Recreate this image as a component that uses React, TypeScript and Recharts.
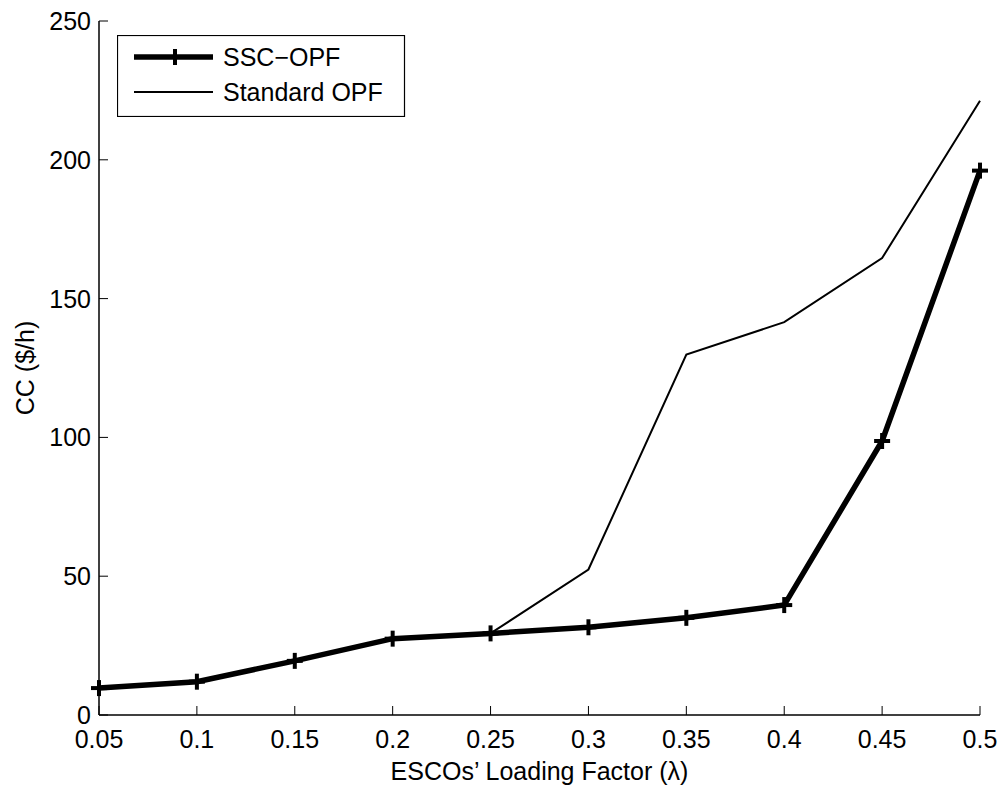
import React from 'react';
import { LineChart, Line, XAxis, YAxis, Legend } from 'recharts';

const factors = [0.05, 0.1, 0.15, 0.2, 0.25, 0.3, 0.35, 0.4, 0.45, 0.5];
const sscOpf = [9.7, 12.0, 19.5, 27.5, 29.4, 31.6, 35.0, 39.6, 98.7, 196.1];
const standardOpf = [9.7, 12.0, 19.5, 27.5, 29.4, 52.4, 129.8, 141.5, 164.6, 221.3];
const xTicks = [0.05, 0.1, 0.15, 0.2, 0.25, 0.3, 0.35, 0.4, 0.45, 0.5];
const xTickLabels = ['0.05', '0.1', '0.15', '0.2', '0.25', '0.3', '0.35', '0.4', '0.45', '0.5'];
const yTicks = [0, 50, 100, 150, 200, 250];

const data = factors.map((f, i) => ({ f, ssc: sscOpf[i], std: standardOpf[i] }));

const FONT = '"Liberation Sans", Arial, Helvetica, sans-serif';
const FS = 25;
const TL = 9;

const BottomTick = (props: any) => {
  const { x, y, payload } = props;
  const idx = xTicks.indexOf(payload.value);
  return (
    <g>
      <line x1={x} y1={y} x2={x} y2={y - TL} stroke="#000" strokeWidth={1} />
      <text x={x} y={y + 33} textAnchor="middle" fontFamily={FONT} fontSize={FS} fill="#000">
        {idx >= 0 ? xTickLabels[idx] : payload.value}
      </text>
    </g>
  );
};
const TopTick = (props: any) => {
  const { x, y } = props;
  return <line x1={x} y1={y} x2={x} y2={y + TL} stroke="#000" strokeWidth={1} />;
};
const LeftTick = (props: any) => {
  const { x, y, payload } = props;
  return (
    <g>
      <line x1={x} y1={y} x2={x + TL} y2={y} stroke="#000" strokeWidth={1} />
      <text x={x - 8} y={y + 9} textAnchor="end" fontFamily={FONT} fontSize={FS} fill="#000">
        {payload.value}
      </text>
    </g>
  );
};
const RightTick = (props: any) => {
  const { x, y } = props;
  return <line x1={x} y1={y} x2={x - TL} y2={y} stroke="#000" strokeWidth={1} />;
};

const PlusDot = (props: any) => {
  const { cx, cy } = props;
  if (cx == null || cy == null) return null;
  return (
    <g>
      <line x1={cx - 8} y1={cy} x2={cx + 8} y2={cy} stroke="#000" strokeWidth={4} />
      <line x1={cx} y1={cy - 8} x2={cx} y2={cy + 8} stroke="#000" strokeWidth={4} />
    </g>
  );
};

const LegendBox = () => (
  <div style={{ position: 'absolute', left: 117, top: 35 }}>
    <svg width={289} height={82}>
      <rect x={0.5} y={0.5} width={287} height={81} fill="#fff" stroke="#000" strokeWidth={1.2} />
      <line x1={17} y1={22} x2={96} y2={22} stroke="#000" strokeWidth={5.5} />
      <line x1={50} y1={22} x2={66} y2={22} stroke="#000" strokeWidth={4} />
      <line x1={58} y1={14} x2={58} y2={30} stroke="#000" strokeWidth={4} />
      <text x={106} y={31} fontFamily={FONT} fontSize={FS} fill="#000">SSC−OPF</text>
      <line x1={17} y1={57} x2={96} y2={57} stroke="#000" strokeWidth={2} />
      <text x={106} y={66} fontFamily={FONT} fontSize={FS} fill="#000">Standard OPF</text>
    </svg>
  </div>
);

export default function App() {
  return (
    <div style={{ position: 'absolute', left: 0, top: 0, width: 1005, height: 789, background: '#fff' }}>
      <LineChart width={1005} height={789} data={data} margin={{ top: 21, right: 25, left: 0, bottom: 0 }}>
        <XAxis
          xAxisId="b"
          dataKey="f"
          type="number"
          domain={[0.05, 0.5]}
          ticks={xTicks}
          tickSize={0}
          tickMargin={0}
          tick={<BottomTick />}
          axisLine={{ stroke: '#000', strokeWidth: 1.5 }}
          height={74}
          label={{ value: "ESCOs’ Loading Factor (λ)", position: 'insideBottom', offset: 9, style: { fontFamily: FONT, fontSize: FS, fill: '#000' } }}
        />
        <XAxis
          xAxisId="t"
          orientation="top"
          dataKey="f"
          type="number"
          domain={[0.05, 0.5]}
          ticks={xTicks}
          tickSize={0}
          tickMargin={0}
          tick={<TopTick />}
          axisLine={{ stroke: '#000', strokeWidth: 1.5 }}
          height={0}
        />
        <YAxis
          yAxisId="l"
          type="number"
          domain={[0, 250]}
          ticks={yTicks}
          tickSize={0}
          tickMargin={0}
          tick={<LeftTick />}
          axisLine={{ stroke: '#000', strokeWidth: 1.5 }}
          width={99}
          label={{ value: 'CC ($/h)', angle: -90, position: 'insideLeft', offset: 25, style: { fontFamily: FONT, fontSize: FS, fill: '#000', textAnchor: 'middle' } }}
        />
        <YAxis
          yAxisId="r"
          orientation="right"
          type="number"
          domain={[0, 250]}
          ticks={yTicks}
          tickSize={0}
          tickMargin={0}
          tick={<RightTick />}
          axisLine={{ stroke: '#000', strokeWidth: 1.5 }}
          width={0}
        />
        <Legend content={<LegendBox />} wrapperStyle={{ position: 'absolute', left: 0, top: 0, width: 0, height: 0 }} />
        <Line
          xAxisId="b"
          yAxisId="l"
          dataKey="std"
          name="Standard OPF"
          stroke="#000"
          strokeWidth={2}
          dot={false}
          isAnimationActive={false}
        />
        <Line
          xAxisId="b"
          yAxisId="l"
          dataKey="ssc"
          name="SSC−OPF"
          stroke="#000"
          strokeWidth={5.5}
          dot={<PlusDot />}
          isAnimationActive={false}
        />
      </LineChart>
    </div>
  );
}
